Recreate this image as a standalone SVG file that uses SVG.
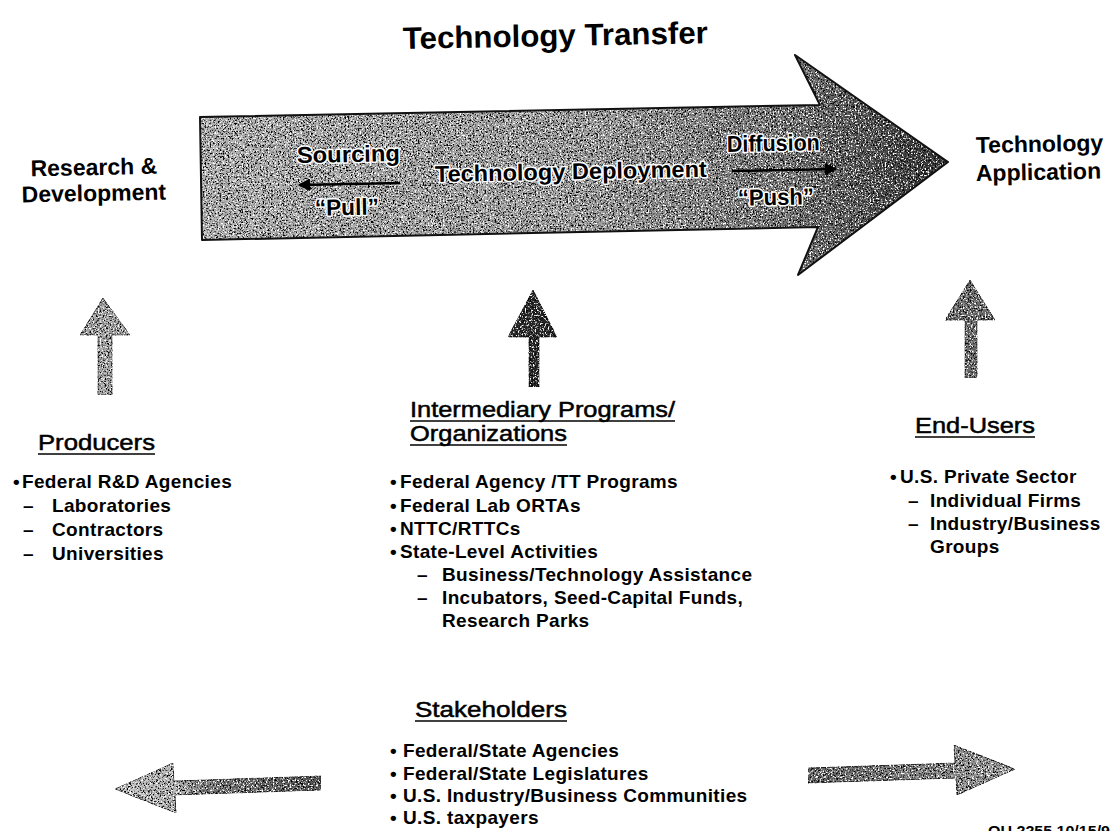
<svg xmlns="http://www.w3.org/2000/svg" width="1112" height="831" viewBox="0 0 1112 831">
<defs>
<style>
text { font-family: "Liberation Sans", Arial, Helvetica, sans-serif; fill: #000; }
.title { font-size: 31px; font-weight: bold; }
.lbl { font-size: 23px; font-weight: bold; }
.in { font-size: 23px; font-weight: bold; stroke: #fff; stroke-width: 3px; paint-order: stroke; stroke-linejoin: round; }
.hd { font-size: 22px; stroke: #000; stroke-width: 0.5px; }
.li { font-size: 19px; font-weight: bold; letter-spacing: 0.35px; }
.foot { font-size: 14px; font-weight: bold; }
.ul { stroke: #000; stroke-width: 1.6; fill: none; }
.edge { fill: none; stroke: #111; stroke-width: 2; stroke-linejoin: round; }
.tex { filter: url(#speck); }
.inarrow { stroke: #000; stroke-width: 2.5; fill: none; marker-end: url(#ah); }
</style>
<linearGradient id="gBig" gradientUnits="userSpaceOnUse" x1="200" y1="0" x2="950" y2="0">
  <stop offset="0" stop-color="#b2b2b2"/>
  <stop offset="0.5" stop-color="#a0a0a0"/>
  <stop offset="0.78" stop-color="#787878"/>
  <stop offset="1" stop-color="#2e2e2e"/>
</linearGradient>
<linearGradient id="gBL" gradientUnits="userSpaceOnUse" x1="115" y1="0" x2="321" y2="0">
  <stop offset="0" stop-color="#c8c8c8"/>
  <stop offset="0.3" stop-color="#b4b4b4"/>
  <stop offset="0.45" stop-color="#777"/>
  <stop offset="1" stop-color="#555"/>
</linearGradient>
<linearGradient id="gBR" gradientUnits="userSpaceOnUse" x1="808" y1="0" x2="1015" y2="0">
  <stop offset="0" stop-color="#666"/>
  <stop offset="0.65" stop-color="#8a8a8a"/>
  <stop offset="1" stop-color="#a0a0a0"/>
</linearGradient>
<filter id="speck" x="0" y="0" width="1" height="1" color-interpolation-filters="sRGB">
  <feTurbulence type="fractalNoise" baseFrequency="0.6" numOctaves="3" seed="7" result="noise"/>
  <feColorMatrix in="noise" type="matrix" values="0 0 0 0 0  0 0 0 0 0  0 0 0 0 0  5 0 0 0 -2.45" result="dark"/>
  <feColorMatrix in="noise" type="matrix" values="0 0 0 0 1  0 0 0 0 1  0 0 0 0 1  0 -5 0 0 2.35" result="light"/>
  <feMerge result="m">
    <feMergeNode in="SourceGraphic"/>
    <feMergeNode in="dark"/>
    <feMergeNode in="light"/>
  </feMerge>
  <feComposite in="m" in2="SourceAlpha" operator="in"/>
</filter>
<marker id="ah" viewBox="0 0 10 10" refX="8" refY="5" markerWidth="5" markerHeight="5" orient="auto" markerUnits="strokeWidth">
  <path d="M0,0 L10,5 L0,10 Z" fill="#000"/>
</marker>
</defs>

<rect x="0" y="0" width="1112" height="831" fill="#fff"/>

<g id="title">
  <text class="title" x="403" y="49" textLength="305" lengthAdjust="spacingAndGlyphs" transform="rotate(-1.1 403 49)">Technology Transfer</text>
</g>

<g id="transfer-arrow">
  <polygon class="tex" points="200,117 820,105 795,55 948,162 798,275 818,227 202,240" fill="url(#gBig)"/>
  <polygon class="edge" points="200,117 820,105 795,55 948,162 798,275 818,227 202,240"/>
  <g transform="rotate(-1.1 297 163)">
    <text class="in" x="297" y="163" textLength="103" lengthAdjust="spacingAndGlyphs">Sourcing</text>
    <text class="in" x="314" y="216" textLength="64" lengthAdjust="spacingAndGlyphs">“Pull”</text>
  </g>
  <text class="in" x="435" y="182" textLength="272" lengthAdjust="spacingAndGlyphs" transform="rotate(-1.1 435 182)">Technology Deployment</text>
  <g transform="rotate(-1.1 727 152)">
    <text class="in" x="727" y="152" textLength="93" lengthAdjust="spacingAndGlyphs">Diffusion</text>
    <text class="in" x="737" y="206" textLength="76" lengthAdjust="spacingAndGlyphs">“Push”</text>
  </g>
</g>

<g id="rd">
  <text class="lbl" x="94" y="175" text-anchor="middle" transform="rotate(-1.1 94 175)">Research &amp;</text>
  <text class="lbl" x="94" y="201" text-anchor="middle" transform="rotate(-1.1 94 201)">Development</text>
</g>

<g id="application">
  <text class="lbl" x="976" y="153" transform="rotate(-1.1 976 153)">Technology</text>
  <text class="lbl" x="976" y="181" transform="rotate(-1.1 976 181)">Application</text>
</g>

<g id="producers">
  <text class="hd" x="38" y="450" textLength="117" lengthAdjust="spacingAndGlyphs">Producers</text>
  <line class="ul" x1="38" y1="454" x2="155" y2="454"/>
  <text class="li" x="13" y="488">•</text>
  <text class="li" x="22" y="488">Federal R&amp;D Agencies</text>
  <text class="li" x="23" y="512">–</text>
  <text class="li" x="52" y="512">Laboratories</text>
  <text class="li" x="23" y="536">–</text>
  <text class="li" x="52" y="536">Contractors</text>
  <text class="li" x="23" y="560">–</text>
  <text class="li" x="52" y="560">Universities</text>
</g>

<g id="intermediary">
  <text class="hd" x="410" y="417" textLength="265" lengthAdjust="spacingAndGlyphs">Intermediary Programs/</text>
  <line class="ul" x1="410" y1="421" x2="675" y2="421"/>
  <text class="hd" x="410" y="441" textLength="157" lengthAdjust="spacingAndGlyphs">Organizations</text>
  <line class="ul" x1="410" y1="445" x2="567" y2="445"/>
  <text class="li" x="390" y="488">•</text>
  <text class="li" x="400" y="488">Federal Agency /TT Programs</text>
  <text class="li" x="390" y="512">•</text>
  <text class="li" x="400" y="512">Federal Lab ORTAs</text>
  <text class="li" x="390" y="535">•</text>
  <text class="li" x="400" y="535">NTTC/RTTCs</text>
  <text class="li" x="390" y="558">•</text>
  <text class="li" x="400" y="558">State-Level Activities</text>
  <text class="li" x="417" y="581">–</text>
  <text class="li" x="442" y="581">Business/Technology Assistance</text>
  <text class="li" x="417" y="604">–</text>
  <text class="li" x="442" y="604">Incubators, Seed-Capital Funds,</text>
  <text class="li" x="442" y="627">Research Parks</text>
</g>

<g id="end-users">
  <text class="hd" x="915" y="433" textLength="120" lengthAdjust="spacingAndGlyphs">End-Users</text>
  <line class="ul" x1="915" y1="437" x2="1035" y2="437"/>
  <text class="li" x="890" y="483">•</text>
  <text class="li" x="900" y="483">U.S. Private Sector</text>
  <text class="li" x="908" y="507">–</text>
  <text class="li" x="930" y="507">Individual Firms</text>
  <text class="li" x="908" y="530">–</text>
  <text class="li" x="930" y="530">Industry/Business</text>
  <text class="li" x="930" y="553">Groups</text>
</g>

<g id="stakeholders">
  <text class="hd" x="415" y="717" textLength="152" lengthAdjust="spacingAndGlyphs">Stakeholders</text>
  <line class="ul" x1="415" y1="721" x2="567" y2="721"/>
  <text class="li" x="390" y="757">•</text>
  <text class="li" x="403" y="757">Federal/State Agencies</text>
  <text class="li" x="390" y="780">•</text>
  <text class="li" x="403" y="780">Federal/State Legislatures</text>
  <text class="li" x="390" y="802">•</text>
  <text class="li" x="403" y="802">U.S. Industry/Business Communities</text>
  <text class="li" x="390" y="824">•</text>
  <text class="li" x="403" y="824">U.S. taxpayers</text>
</g>

<g id="connectors">
  <line class="inarrow" x1="400" y1="183" x2="300" y2="185"/>
  <line class="inarrow" x1="732" y1="171" x2="835" y2="169"/>
  <polygon class="tex" points="103,298 130,335 112,335 112,395 98,395 98,335 80,335" fill="#a6a6a6" stroke="#444" stroke-width="1"/>
  <polygon class="tex" points="533,290 557,337 539,337 539,387 529,387 529,337 508,337" fill="#262626" stroke="#111" stroke-width="1"/>
  <polygon class="tex" points="970,280 995,320 977,320 977,378 965,378 965,320 945,320" fill="#6e6e6e" stroke="#222" stroke-width="1"/>
  <polygon class="tex" points="115,789 173,763 174,781 321,776 321,790 175,795 176,813" fill="url(#gBL)" stroke="#333" stroke-width="1"/>
  <polygon class="tex" points="808,768 955,763 954,745 1015,769 957,795 956,778 808,783" fill="url(#gBR)" stroke="#222" stroke-width="1"/>
</g>

<g id="footer">
  <text class="foot" x="988" y="836" textLength="122" lengthAdjust="spacingAndGlyphs">OU 2255  10/15/9</text>
</g>
</svg>
